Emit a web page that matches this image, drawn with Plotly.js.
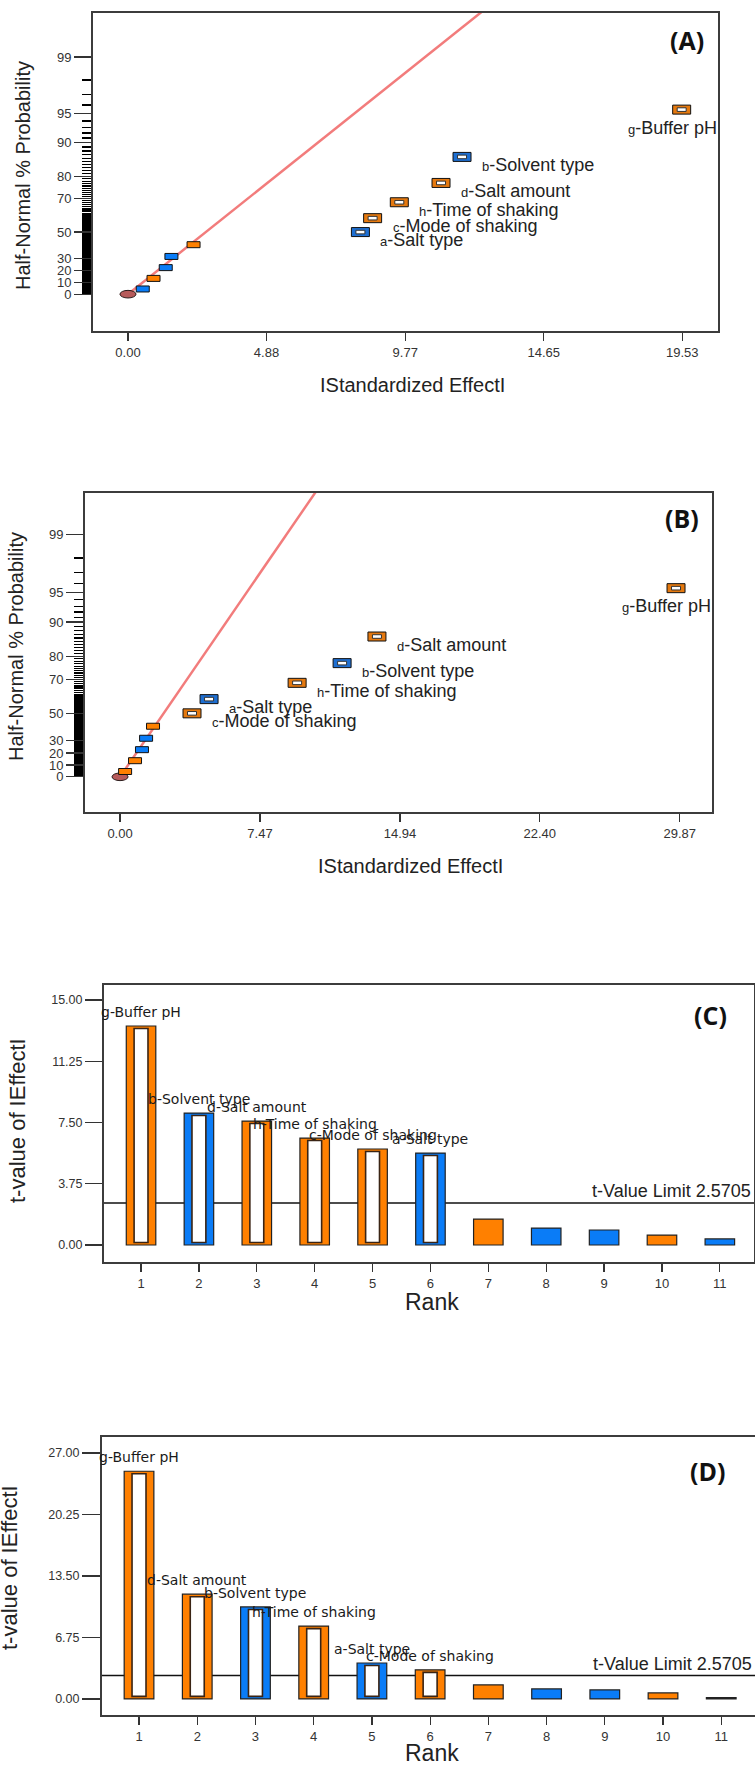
<!DOCTYPE html>
<html>
<head>
<meta charset="utf-8">
<script src="https://cdn.plot.ly/plotly-3.0.1.min.js"></script>
<style>html,body{margin:0;padding:0;background:#fff;}#chart{width:755px;height:1767px;}</style>
</head>
<body>
<div id="chart"></div>
<script>
// ---------------- DATA ----------------
// Half-normal probability (%) of each ranked effect (shared by A and B)
const halfNormalPct = [4.5, 13.6, 22.7, 31.8, 40.9, 50.0, 59.1, 68.2, 77.3, 86.4, 95.5];

// Panel A: |standardized effect| per point (ordered by probability)
const effectA = [0.52, 0.90, 1.33, 1.53, 2.31, 8.19, 8.62, 9.56, 11.03, 11.77, 19.51];
const colorKeyA = ['b','o','b','b','o','b','o','o','o','b','o'];
const letterA = ['', '', '', '', '', 'a', 'c', 'h', 'd', 'b', 'g'];
const nameA = ['', '', '', '', '', 'Salt type', 'Mode of shaking', 'Time of shaking', 'Salt amount', 'Solvent type', 'Buffer pH'];
const lineAx = [0, 12.56];
const lineApct = [0, 99.8];
const xTicksA = [0, 4.88, 9.77, 14.65, 19.53];
const xTickTextA = ['0.00', '4.88', '9.77', '14.65', '19.53'];

// Panel B
const effectB = [0.27, 0.80, 1.17, 1.39, 1.76, 3.84, 4.75, 9.45, 11.85, 13.71, 29.67];
const colorKeyB = ['o','o','b','b','o','o','b','o','b','o','o'];
const letterB = ['', '', '', '', '', 'c', 'a', 'h', 'b', 'd', 'g'];
const nameB = ['', '', '', '', '', 'Mode of shaking', 'Salt type', 'Time of shaking', 'Solvent type', 'Salt amount', 'Buffer pH'];
const lineBx = [0, 10.66];
const lineBpct = [0, 99.8];
const xTicksB = [0, 7.47, 14.94, 22.40, 29.87];
const xTickTextB = ['0.00', '7.47', '14.94', '22.40', '29.87'];

// Half-normal probability axis ticks (%)
const probTicks = [0, 10, 20, 30, 50, 70, 80, 90, 95, 99];
const probTickText = ['0', '10', '20', '30', '50', '70', '80', '90', '95', '99'];

// Panel C: Pareto chart
const ranks = [1, 2, 3, 4, 5, 6, 7, 8, 9, 10, 11];
const tValueC = [13.41, 8.08, 7.59, 6.55, 5.88, 5.63, 1.59, 1.04, 0.92, 0.61, 0.37];
const colorKeyC = ['o','b','o','o','o','b','o','b','b','o','b'];
const labelC = ['g-Buffer pH', 'b-Solvent type', 'd-Salt amount', 'h-Time of shaking', 'c-Mode of shaking', 'a-Salt type', '', '', '', '', ''];
const yTicksC = [0, 3.75, 7.5, 11.25, 15];
const yTickTextC = ['0.00', '3.75', '7.50', '11.25', '15.00'];

// Panel D: Pareto chart
const tValueD = [25.0, 11.5, 10.1, 8.0, 3.95, 3.2, 1.54, 1.1, 0.99, 0.66, 0.15];
const colorKeyD = ['o','o','b','o','b','o','o','b','b','o','b'];
const labelD = ['g-Buffer pH', 'd-Salt amount', 'b-Solvent type', 'h-Time of shaking', 'a-Salt type', 'c-Mode of shaking', '', '', '', '', ''];
const yTicksD = [0, 6.75, 13.5, 20.25, 27];
const yTickTextD = ['0.00', '6.75', '13.50', '20.25', '27.00'];

const tLimit = 2.5705;

// ---------------- HELPERS ----------------
const W = 755, H = 1767;
const px = v => v / W;
const py = v => 1 - v / H;
const ORANGE = '#FF8000', BLUE = '#0A7CF7';
const ORANGE_M = '#E5790F', BLUE_M = '#1E6FD2';
const col = k => (k === 'o' ? ORANGE : BLUE);
const colM = k => (k === 'o' ? ORANGE_M : BLUE_M);
const FONT = 'Liberation Sans, Arial, sans-serif';
const DV = 'DejaVu Sans, sans-serif';

function invNorm(p) {
  const a=[-3.969683028665376e+01,2.209460984245205e+02,-2.759285104469687e+02,1.383577518672690e+02,-3.066479806614716e+01,2.506628277459239e+00];
  const b=[-5.447609879822406e+01,1.615858368580409e+02,-1.556989798598866e+02,6.680131188771972e+01,-1.328068155288572e+01];
  const c=[-7.784894002430293e-03,-3.223964580411365e-01,-2.400758277161838e+00,-2.549732539343734e+00,4.374664141464968e+00,2.938163982698783e+00];
  const d=[7.784695709041462e-03,3.224671290700398e-01,2.445134137142996e+00,3.754408661907416e+00];
  const pl = 0.02425, ph = 1 - pl;
  if (p < pl) { const q = Math.sqrt(-2*Math.log(p)); return (((((c[0]*q+c[1])*q+c[2])*q+c[3])*q+c[4])*q+c[5])/((((d[0]*q+d[1])*q+d[2])*q+d[3])*q+1); }
  if (p <= ph) { const q = p - 0.5, r = q*q; return (((((a[0]*r+a[1])*r+a[2])*r+a[3])*r+a[4])*r+a[5])*q/(((((b[0]*r+b[1])*r+b[2])*r+b[3])*r+b[4])*r+1); }
  const q = Math.sqrt(-2*Math.log(1-p)); return -(((((c[0]*q+c[1])*q+c[2])*q+c[3])*q+c[4])*q+c[5])/((((d[0]*q+d[1])*q+d[2])*q+d[3])*q+1);
}
// half-normal probability scale
const hn = pct => (pct <= 0 ? 0 : invNorm(0.5 + pct / 200));

// minor tick positions on the probability axis (dense rug, as in the reference)
const minorPct = [];
for (let i = 0.5; i < 60; i += 0.5) minorPct.push(i);
for (let i = 60; i <= 98; i++) minorPct.push(i);

const traces = [];
const shapes = [];
const annotations = [];

function halfNormalPanel(ax, effects, keys, letters, names, lx, lpct, xmax) {
  const xr = 'x' + ax, yr = 'y' + ax;
  const z = halfNormalPct.map(hn);
  traces.push({type:'scatter', mode:'lines', x: lx, y: lpct.map(hn), xaxis: xr, yaxis: yr,
    line:{color:'#F27C7C', width:2.5}, hoverinfo:'skip', cliponaxis:true});
  traces.push({type:'scatter', mode:'markers', x: [0].concat(effects), y: [0].concat(z), xaxis: xr, yaxis: yr,
    marker:{size:10, opacity:0}, hoverinfo:'x+y'});
  // origin ellipse
  shapes.push({type:'circle', xref:xr, yref:yr, xsizemode:'pixel', ysizemode:'pixel',
    xanchor:0, yanchor:hn(0), x0:-8, x1:8, y0:-3.8, y1:3.8,
    fillcolor:'#B65A5A', line:{color:'#2a1a1a', width:1}});
  effects.forEach((e, i) => {
    const labelled = letters[i] !== '';
    if (labelled) {
      shapes.push({type:'rect', xref:xr, yref:yr, xsizemode:'pixel', ysizemode:'pixel',
        xanchor:e, yanchor:z[i], x0:-9, x1:9, y0:-4.5, y1:4.5,
        fillcolor:colM(keys[i]), line:{color:'#111', width:1}});
      shapes.push({type:'rect', xref:xr, yref:yr, xsizemode:'pixel', ysizemode:'pixel',
        xanchor:e, yanchor:z[i], x0:-4.5, x1:4.5, y0:-1.8, y1:1.8,
        fillcolor:'#ffffff', line:{color:'#333', width:1}});
      const right = e > 0.8 * xmax;
      annotations.push({xref:xr, yref:yr, x:e, y:z[i], showarrow:false,
        text:'<span style="font-size:13px">' + letters[i] + '</span>-' + names[i],
        xanchor: right ? 'right' : 'left', yanchor:'middle',
        xshift: right ? 37 : 18, yshift: right ? -18 : -8,
        font:{family:FONT, size:18, color:'#222'}});
    } else {
      shapes.push({type:'rect', xref:xr, yref:yr, xsizemode:'pixel', ysizemode:'pixel',
        xanchor:e, yanchor:z[i], x0:-6.5, x1:6.5, y0:-3, y1:3,
        fillcolor:col(keys[i]), line:{color:'#111', width:1}});
    }
  });
}

function paretoPanel(ax, vals, keys, labels, inset) {
  const xr = 'x' + ax, yr = 'y' + ax;
  traces.push({type:'bar', x: ranks, y: vals, xaxis: xr, yaxis: yr, width: 0.51,
    marker:{color: keys.map(col), line:{color:'#222', width:1.2}}, hoverinfo:'x+y'});
  const hx = [], hy = [], hb = [];
  labels.forEach((l, i) => { if (l) { hx.push(ranks[i]); hy.push(vals[i] - 2*inset); hb.push(inset); } });
  traces.push({type:'bar', x: hx, y: hy, base: hb, xaxis: xr, yaxis: yr, width: 0.24,
    marker:{color:'#ffffff', line:{color:'#3a2414', width:1.6}}, hoverinfo:'skip'});
  labels.forEach((l, i) => {
    if (!l) return;
    annotations.push({xref:xr, yref:yr, x:ranks[i], y:vals[i], text:l, showarrow:false,
      xanchor:'center', yanchor:'middle', yshift:14, font:{family:DV, size:14, color:'#1a1a1a'}});
  });
  shapes.push({type:'line', xref:xr + ' domain', yref:yr, x0:0, x1:1, y0:tLimit, y1:tLimit,
    line:{color:'#111', width:1.6}, layer:'below'});
  annotations.push({xref:xr + ' domain', yref:yr, x:1, y:tLimit, xanchor:'right', yanchor:'bottom',
    xshift:-1, yshift:0, showarrow:false, text:'t-Value Limit 2.5705',
    font:{family:FONT, size:18, color:'#222'}});
}

halfNormalPanel('', effectA, colorKeyA, letterA, nameA, lineAx, lineApct, 20.79);
halfNormalPanel('2', effectB, colorKeyB, letterB, nameB, lineBx, lineBpct, 31.59);
paretoPanel('3', tValueC, colorKeyC, labelC, 0.15);
paretoPanel('4', tValueD, colorKeyD, labelD, 0.28);

// ---------------- LAYOUT ----------------
const frame = {showline:true, mirror:true, linecolor:'#3c3c3c', linewidth:2, zeroline:false, showgrid:false,
  ticks:'outside', tickcolor:'#333', tickwidth:1.2, fixedrange:true};
const tickFont = {family:FONT, size:13, color:'#333'};

function probAxis(domain, range, anchor) {
  return Object.assign({}, frame, {domain, range, anchor, tickmode:'array',
    tickvals: probTicks.map(hn), ticktext: probTickText, ticklen:17, tickfont: tickFont,
    minor:{tickmode:'array', tickvals: minorPct.map(hn), ticks:'outside', ticklen:9, tickcolor:'#000', tickwidth:1.2}});
}
function numAxis(domain, range, anchor, vals, text, len, font) {
  return Object.assign({}, frame, {domain, range, anchor, tickmode:'array', tickvals: vals, ticktext: text,
    ticklen: len, tickfont: font || tickFont});
}

const layout = {
  width: W, height: H, margin:{l:0, r:0, t:0, b:0},
  paper_bgcolor:'#fff', plot_bgcolor:'#fff', showlegend:false, barmode:'overlay',
  font:{family:FONT, color:'#222'},
  xaxis: numAxis([px(93), px(718)], [-1.233, 20.79], 'y', xTicksA, xTickTextA, 8),
  yaxis: probAxis([py(331), py(13)], [-0.40, 3.054], 'x'),
  xaxis2: numAxis([px(85), px(712)], [-1.87, 31.59], 'y2', xTicksB, xTickTextB, 8),
  yaxis2: probAxis([py(812), py(493)], [-0.374, 3.016], 'x2'),
  xaxis3: numAxis([px(104), px(754)], [0.36, 11.59], 'y3', ranks, ranks.map(String), 8),
  yaxis3: numAxis([py(1262), py(985)], [-1.04, 15.92], 'x3', yTicksC, yTickTextC, 17, {family:FONT, size:12.5, color:'#333'}),
  xaxis4: numAxis([px(102), 1], [0.364, 11.58], 'y4', ranks, ranks.map(String), 8),
  yaxis4: numAxis([py(1715), py(1437)], [-1.76, 28.76], 'x4', yTicksD, yTickTextD, 18, {family:FONT, size:12.5, color:'#333'}),
  shapes, annotations
};

function title(x, y, text, size, angle) {
  annotations.push({xref:'paper', yref:'paper', x:px(x), y:py(y), text, showarrow:false,
    xanchor:'center', yanchor:'middle', textangle: angle || 0, font:{family:FONT, size, color:'#222'}});
}
title(23, 176, 'Half-Normal % Probability', 20, -90);
title(412, 385, 'IStandardized EffectI', 20);
title(16, 647, 'Half-Normal % Probability', 20, -90);
title(410, 866, 'IStandardized EffectI', 20);
title(17, 1121, 't-value of IEffectI', 22, -90);
title(432, 1302, 'Rank', 23);
title(9, 1568, 't-value of IEffectI', 22, -90);
title(432, 1753, 'Rank', 23);

function panelTag(x, y, text) {
  annotations.push({xref:'paper', yref:'paper', x:px(x), y:py(y), text:'<b>' + text + '</b>', showarrow:false,
    xanchor:'center', yanchor:'middle', font:{family:'Open Sans, sans-serif', size:25, color:'#111'}});
}
panelTag(687, 40, '(A)');
panelTag(682, 518, '(B)');
panelTag(710, 1015, '(C)');
panelTag(707, 1471, '(D)');

Plotly.newPlot('chart', traces, layout, {displayModeBar:false, staticPlot:true});
</script>
</body>
</html>
